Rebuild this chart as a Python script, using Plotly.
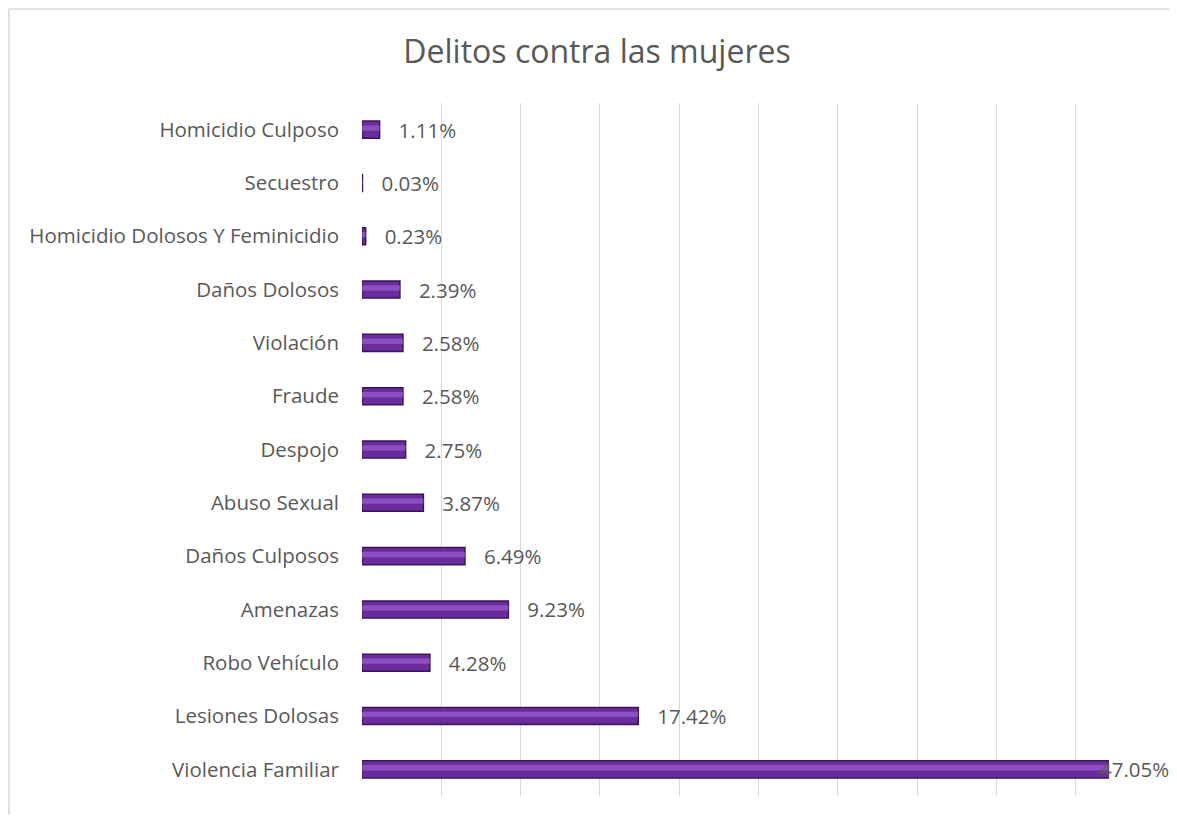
import plotly.graph_objects as go

categories = ["Violencia Familiar", "Lesiones Dolosas", "Robo Vehículo", "Amenazas",
              "Daños Culposos", "Abuso Sexual", "Despojo", "Fraude", "Violación",
              "Daños Dolosos", "Homicidio Dolosos Y Feminicidio", "Secuestro",
              "Homicidio Culposo"]
values = [47.05, 17.42, 4.28, 9.23, 6.49, 3.87, 2.75, 2.58, 2.58, 2.39, 0.23, 0.03, 1.11]
labels = [f"{v:.2f}%" for v in values]

OFF = 8  # page body margin
W, H = 1177 - 2 * OFF, 823 - 2 * OFF
L = 362 - OFF
T = 103 - OFF
R = W - (1155 - OFF)
B = H - (796 - OFF)
pw, ph = W - L - R, H - T - B
FONT = "Open Sans, sans-serif"
TXT = "#595959"
xmax = 50

# largest value label is pulled back to fit (as in the source chart)
bar_text = ["" if v == max(values) else "   " + t for v, t in zip(values, labels)]

fig = go.Figure()
fig.add_trace(go.Bar(
    y=categories, x=values, orientation="h", width=0.32,
    marker=dict(color="#6B2C9E", line=dict(color="#3A1558", width=1.5)),
    text=bar_text, textposition="outside", cliponaxis=False, constraintext="none",
    textfont=dict(family=FONT, size=20.5, color=TXT),
    hoverinfo="skip", showlegend=False,
))
fig.add_trace(go.Bar(
    y=categories, x=values, orientation="h", width=0.1, offset=-0.02,
    marker=dict(color="rgba(170,110,220,0.55)", line=dict(width=0)),
    hoverinfo="skip", showlegend=False,
))
for v, c, t in zip(values, categories, labels):
    if v == max(values):
        fig.add_annotation(x=v, y=c, text=t, showarrow=False, xanchor="left",
                           xshift=-10, font=dict(family=FONT, size=20.5, color=TXT))

fig.update_layout(
    width=W, height=H,
    margin=dict(l=L, r=R, t=T, b=B),
    barmode="overlay",
    plot_bgcolor="white", paper_bgcolor="white",
    title=dict(text="Delitos contra las mujeres", x=(597 - OFF) / W, xanchor="center",
               y=1 - (52 - OFF) / H, yanchor="middle",
               font=dict(family=FONT, size=32, color=TXT)),
    xaxis=dict(range=[0, xmax], dtick=5, showticklabels=False, showgrid=True,
               gridcolor="#D9D9D9", gridwidth=1, zeroline=False, showline=False,
               ticks=""),
    yaxis=dict(showgrid=False, zeroline=False, showline=False, ticks="",
               ticklen=0, automargin=False, ticklabelstandoff=22,
               tickfont=dict(family=FONT, size=20.5, color=TXT)),
    font=dict(family=FONT),
)
# chart frame (only top and left edges are visible in the source)
fx0 = (1 - L) / pw
fy1 = 1 + (T - 1) / ph
fig.add_shape(type="line", xref="paper", yref="paper", x0=fx0, x1=(W + 20 - L) / pw,
              y0=fy1, y1=fy1, line=dict(color="#D9D9D9", width=1.5), layer="below")
fig.add_shape(type="line", xref="paper", yref="paper", x0=fx0, x1=fx0,
              y0=fy1, y1=-(H + 20 - (T + ph)) / ph, line=dict(color="#D9D9D9", width=1.5),
              layer="below")
fig.write_html("out.html")
